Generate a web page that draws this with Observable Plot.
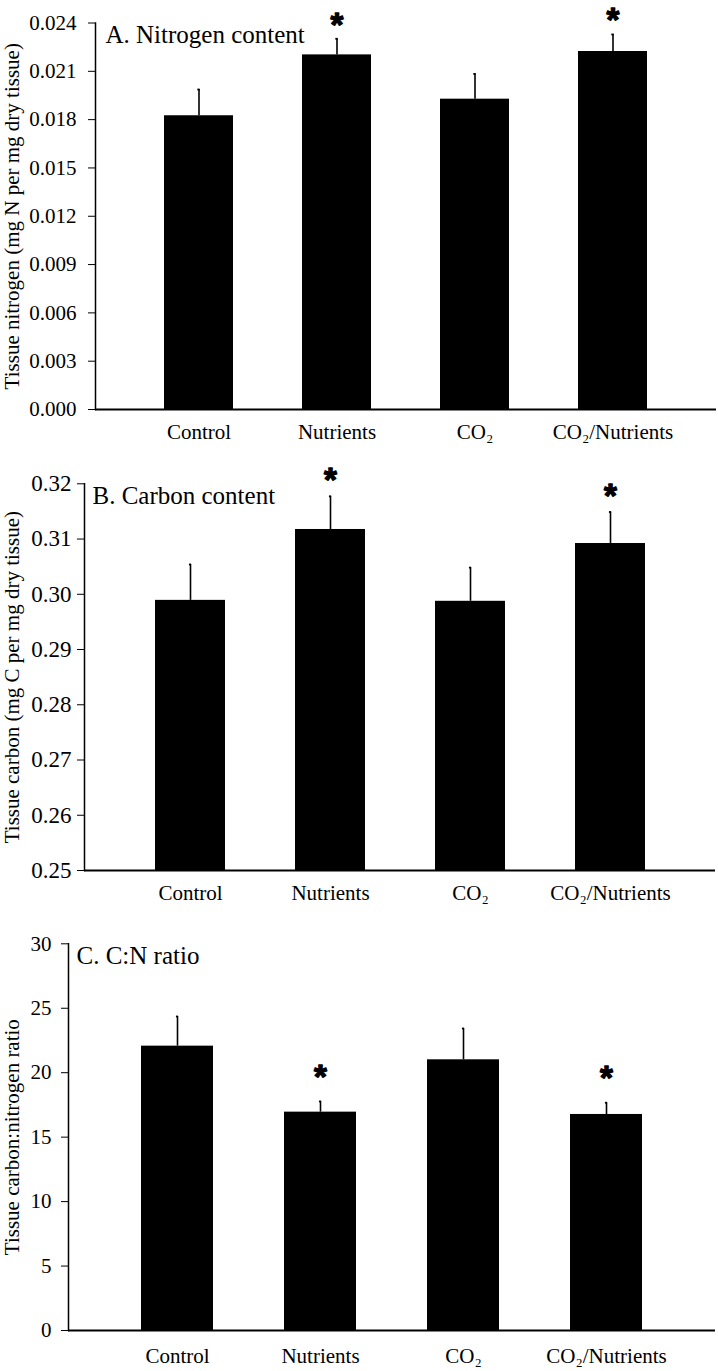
<!DOCTYPE html>
<html><head><meta charset="utf-8">
<script src="https://cdn.jsdelivr.net/npm/d3@7"></script>
<script src="https://cdn.jsdelivr.net/npm/@observablehq/plot@0.6"></script>
<style>
body{margin:0;background:#fff;}
#chart{width:718px;}
#chart svg{display:block;overflow:visible;}
</style></head><body><div id="chart"></div>
<script>
// ---- data ----
const treatments = ["Control", "Nutrients", "CO₂", "CO₂/Nutrients"];
const significant = [false, true, false, true];

const nitrogenMean = [0.01824, 0.02202, 0.01927, 0.02223];
const nitrogenSE   = [0.00163, 0.00100, 0.00157, 0.00106];
const nitrogenTicks = [0, 0.003, 0.006, 0.009, 0.012, 0.015, 0.018, 0.021, 0.024];

const carbonMean = [0.2989, 0.31173, 0.29873, 0.30919];
const carbonSE   = [0.0065, 0.0060, 0.0061, 0.0057];
const carbonTicks = [0.25, 0.26, 0.27, 0.28, 0.29, 0.30, 0.31, 0.32];

const ratioMean = [22.06, 16.94, 21.0, 16.76];
const ratioSE   = [2.30, 0.83, 2.43, 0.91];
const ratioTicks = [0, 5, 10, 15, 20, 25, 30];

const titles = ["A. Nitrogen content", "B. Carbon content", "C. C:N ratio"];
const yLabels = [
  "Tissue nitrogen (mg N per mg dry tissue)",
  "Tissue carbon (mg C per mg dry tissue)",
  "Tissue carbon:nitrogen ratio"
];

const SERIF = "'Liberation Serif', 'Times New Roman', Times, serif";

function panel({means, ses, ticks, fmt, title, yLabel, height, mt, mb, ml, mr, starDy, yPad, xPad, titleDx, tickFont}) {
  const W = 718;
  const rows = treatments.map((t, i) => ({t, m: means[i], top: means[i] + ses[i], sig: significant[i]}));
  const base = ticks[0];
  const bw = (W - ml - mr) / treatments.length * 0.5;
  const capInset = (bw - 11) / 2;
  return Plot.plot({
    width: W, height,
    marginTop: mt, marginBottom: mb, marginLeft: ml, marginRight: mr,
    style: {fontFamily: SERIF, fontSize: "21px", color: "#000", background: "#fff", overflow: "visible"},
    x: {domain: treatments, padding: 0.5, label: null},
    y: {domain: [ticks[0], ticks[ticks.length - 1]], label: null},
    marks: [
      Plot.barY(rows, {x: "t", y1: base, y2: "m", fill: "#000"}),
      Plot.ruleX(rows, {x: "t", y1: "m", y2: "top", stroke: "#000", strokeWidth: 1.6}),
      Plot.tickY(rows, {x: "t", y: "top", stroke: "#000", strokeWidth: 1.8, insetLeft: capInset, insetRight: capInset}),
      Plot.text(rows.filter(d => d.sig), {x: "t", y: "top", text: () => "*", dy: starDy, lineAnchor: "bottom",
        fontSize: 33, fontWeight: "bold", fontFamily: "'Liberation Sans', Arial, sans-serif",
        fill: "#000", stroke: "#000", strokeWidth: 1.3}),
      Plot.axisX({tickSize: 0, tickPadding: xPad, fontSize: 21, label: null, fill: "#000"}),
      Plot.axisY({ticks, tickFormat: fmt, tickSize: 7, tickPadding: yPad, fontSize: tickFont, label: null, stroke: "#000", fill: "#000", fontFamily: SERIF}),
      Plot.ruleY([base], {stroke: "#000", strokeWidth: 2}),
      Plot.frame({anchor: "left", stroke: "#000", strokeWidth: 1.5}),
      Plot.text([title], {frameAnchor: "top-left", dx: titleDx, dy: 2, lineAnchor: "top", fontSize: 25, fill: "#000"}),
      Plot.text([yLabel], {frameAnchor: "left", rotate: -90, dx: -(ml - 12), textAnchor: "middle", lineAnchor: "middle", fontSize: 21, fill: "#000"})
    ]
  });
}

const chart = document.getElementById("chart");
chart.append(panel({means: nitrogenMean, ses: nitrogenSE, ticks: nitrogenTicks, fmt: d3.format(".3f"),
  title: titles[0], yLabel: yLabels[0], height: 455, mt: 22.5, mb: 46, ml: 95, mr: 2,
  starDy: -3, yPad: 12, xPad: 15, titleDx: 10, tickFont: 21}));
chart.append(panel({means: carbonMean, ses: carbonSE, ticks: carbonTicks, fmt: d3.format(".2f"),
  title: titles[1], yLabel: yLabels[1], height: 460, mt: 28.3, mb: 45, ml: 84, mr: 3,
  starDy: -5.5, yPad: 6, xPad: 15, titleDx: 8, tickFont: 23}));
chart.append(panel({means: ratioMean, ses: ratioSE, ticks: ratioTicks, fmt: d3.format("d"),
  title: titles[2], yLabel: yLabels[2], height: 456, mt: 28.3, mb: 41, ml: 68, mr: 3,
  starDy: -13.5, yPad: 10, xPad: 18, titleDx: 8, tickFont: 21}));
</script></body></html>
